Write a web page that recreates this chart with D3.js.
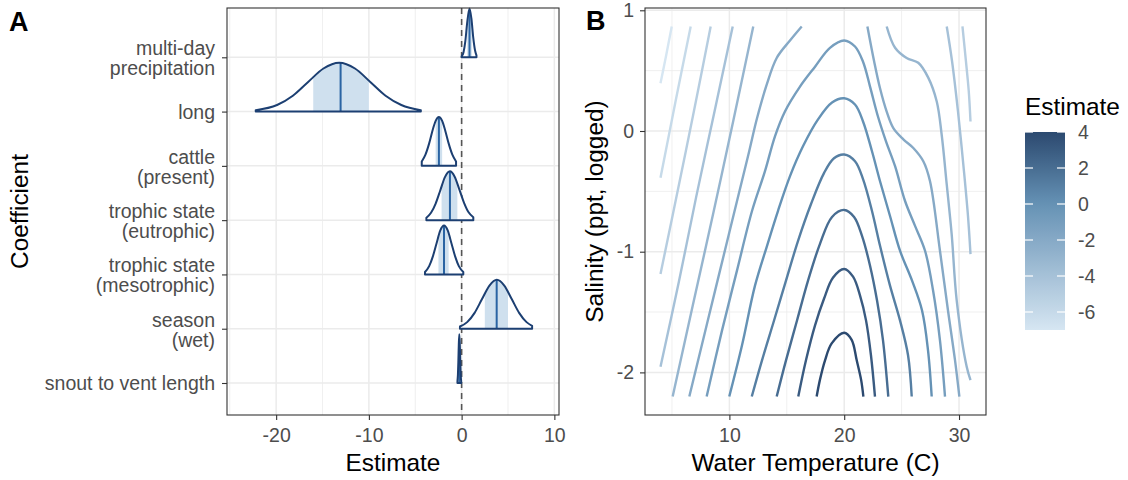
<!DOCTYPE html>
<html><head><meta charset="utf-8">
<script src="https://cdn.jsdelivr.net/npm/d3@7"></script>
<style>
body{margin:0;background:#fff;}
svg{display:block;font-family:"Liberation Sans",Arial,Helvetica,sans-serif;}
</style></head>
<body><svg id="chart" width="1128" height="480"></svg>
<script>
// ---------------- Panel A data ----------------
const coefficients = ["multi-day\nprecipitation","long","cattle\n(present)","trophic state\n(eutrophic)","trophic state\n(mesotrophic)","season\n(wet)","snout to vent length"];
// estimate positions of the density outline, per coefficient
const ridgeX = [
  [0.0,0.2,0.4,0.6,0.85,1.05,1.25,1.45,1.6],
  [-22.2,-19.9,-18.2,-16.55,-14.9,-13.2,-11.5,-9.85,-8.2,-6.5,-4.4],
  [-4.3,-3.9,-3.5,-3.1,-2.8,-2.45,-2.1,-1.75,-1.4,-1.0,-0.6],
  [-3.8,-3.3,-2.8,-2.3,-1.8,-1.26,-0.75,-0.25,0.25,0.75,1.26],
  [-3.95,-3.5,-3.1,-2.7,-2.3,-1.9,-1.5,-1.1,-0.7,-0.3,0.18],
  [-0.18,0.6,1.4,2.2,3.0,3.8,4.6,5.4,6.2,7.0,7.6],
  [-0.45,-0.4,-0.35,-0.3,-0.25,-0.2,-0.15,-0.1,-0.05]
];
// relative density heights read at those positions
const ridgeDensity = [
  [0.02,0.10,0.33,0.71,1.0,0.80,0.41,0.14,0.04],
  [0.03,0.135,0.325,0.607,0.882,1.0,0.882,0.607,0.325,0.135,0.03],
  [0.09,0.23,0.46,0.75,0.92,1.0,0.92,0.71,0.46,0.23,0.09],
  [0.05,0.15,0.34,0.61,0.88,1.0,0.89,0.63,0.36,0.16,0.06],
  [0.05,0.17,0.37,0.64,0.90,1.0,0.90,0.64,0.37,0.17,0.05],
  [0.045,0.135,0.325,0.607,0.882,1.0,0.882,0.607,0.325,0.135,0.06],
  [0.04,0.17,0.46,0.82,1.0,0.82,0.46,0.17,0.04]
];
const ridgeMedian = [0.85,-13.05,-2.45,-1.26,-1.9,3.78,-0.25];
const ridgeLow  = [0.6,-16.0,-2.8,-2.16,-2.5,2.5,-0.3];
const ridgeHigh = [1.1,-10.0,-2.1,-0.46,-1.4,5.0,-0.2];
const estimateTicks = [-20,-10,0,10];
const estimateMinor = [-25,-15,-5,5];

// ---------------- Panel B data ----------------
const tempTicks = [10,20,30];
const tempMinor = [5,15,25];
const salTicks = [-2,-1,0,1];
const salMinor = [-1.5,-0.5,0.5];
const legendTicks = [4,2,0,-2,-4,-6];
// contour lines (Water Temperature, Salinity) per level
const level4 = [[[17.6,-2.2],[17.89,-2.06],[18.33,-1.90],[18.91,-1.76],[20.0,-1.671],[20.65,-1.73],[21.09,-1.90],[21.47,-2.06],[21.67,-2.2]]];
const level3 = [[[16.0,-2.2],[16.67,-1.90],[17.46,-1.61],[18.24,-1.39],[19.02,-1.215],[20.0,-1.143],[20.77,-1.207],[21.38,-1.364],[21.90,-1.569],[22.33,-1.858],[22.68,-2.2]]];
const level2 = [[[14.12,-2.2],[14.93,-1.90],[15.89,-1.57],[16.85,-1.24],[17.89,-0.935],[18.94,-0.712],[20.0,-0.654],[20.86,-0.712],[21.55,-0.869],[22.25,-1.116],[22.86,-1.405],[23.38,-1.734],[23.84,-2.2]]];
const level1 = [[[11.95,-2.2],[12.84,-1.90],[13.89,-1.57],[14.93,-1.24],[15.98,-0.91],[17.11,-0.605],[18.24,-0.349],[19.11,-0.226],[20.0,-0.195],[20.94,-0.251],[21.64,-0.399],[22.42,-0.663],[23.12,-0.951],[23.99,-1.281],[24.86,-1.569],[25.56,-1.858],[25.88,-2.2]]];
const level0 = [[[9.99,-2.2],[11.10,-1.775],[12.23,-1.281],[13.28,-0.951],[14.23,-0.663],[15.28,-0.374],[16.41,-0.127],[17.72,0.096],[18.94,0.236],[20.0,0.271],[20.94,0.219],[21.64,0.079],[22.42,-0.168],[23.12,-0.416],[23.99,-0.704],[24.86,-0.992],[25.91,-1.24],[26.78,-1.487],[27.30,-1.817],[27.62,-2.2]]];
const levelM1 = [[[8.02,-2.2],[9.36,-1.652],[10.66,-1.157],[11.97,-0.663],[13.10,-0.333],[13.97,-0.044],[14.84,0.162],[16.15,0.368],[17.46,0.533],[18.76,0.689],[20.0,0.75],[20.94,0.70],[21.64,0.574],[22.25,0.368],[22.94,0.120],[23.64,-0.086],[24.43,-0.292],[25.3,-0.58],[26.17,-0.786],[27.04,-0.992],[27.74,-1.322],[28.34,-1.734],[28.78,-2.2]]];
const levelM2 = [
  [[6.51,-2.2],[9.18,-1.157],[11.62,-0.209],[12.40,0.104],[13.25,0.384],[14.12,0.605],[15.28,0.75],[16.30,0.866]],
  [[22.02,0.866],[22.6,0.58],[23.12,0.354],[23.70,0.161],[24.28,0.024],[25.15,-0.069],[26.02,-0.141],[26.89,-0.251],[27.47,-0.415],[28.34,-0.992],[29.04,-1.487],[29.65,-1.899],[30.03,-2.2]]
];
const levelM3 = [
  [[5.06,-2.2],[6.8,-1.45],[8.6,-0.68],[10.35,0.09],[12.08,0.866]],
  [[23.70,0.866],[24.43,0.69],[25.44,0.605],[26.45,0.565],[27.33,0.44],[28.06,0.244],[28.49,-0.031],[28.93,-0.443],[29.36,-0.855],[29.8,-1.405],[30.67,-1.954],[31.0,-2.064]]
];
const levelM4 = [
  [[4.0,-1.954],[5.6,-1.25],[7.1,-0.55],[8.7,0.16],[10.29,0.866]],
  [[28.93,0.866],[29.39,0.58],[29.91,0.162],[30.43,-0.333],[30.78,-0.704],[31.0,-1.02]]
];
const levelM5 = [
  [[4.0,-1.184],[5.1,-0.68],[6.2,-0.17],[7.3,0.35],[8.37,0.866]],
  [[30.3,0.866],[30.6,0.58],[30.85,0.327],[31.0,0.079]]
];
const levelM6 = [[[4.0,-0.388],[5.3,0.24],[6.63,0.866]]];
const levelM7 = [[[4.0,0.395],[4.5,0.63],[4.98,0.866]]];
const contourLevels = [-7,-6,-5,-4,-3,-2,-1,0,1,2,3,4];
const contourLines = [levelM7,levelM6,levelM5,levelM4,levelM3,levelM2,levelM1,level0,level1,level2,level3,level4];

// ---------------- drawing ----------------
const svg = d3.select("#chart");
const tickCol = "#4d4d4d", gridCol = "#ebebeb", borderCol = "#333333";
const tickFont = 19.5, titleFont = 24.4;

// ===== Panel A =====
const A = {x0:227, x1:559, y0:8, y1:415};
const xA = d3.scaleLinear().domain([-25.3,10.5]).range([A.x0,A.x1]);
const yA = d3.scalePoint().domain(coefficients).range([57.3,383]);
const hMax = yA.step()*0.9;
const gA = svg.append("g");

// grid
gA.selectAll(".gminA").data(estimateMinor.filter(v=>xA(v)>A.x0)).join("line")
  .attr("x1",d=>xA(d)).attr("x2",d=>xA(d)).attr("y1",A.y0).attr("y2",A.y1)
  .attr("stroke",gridCol).attr("stroke-width",0.8);
gA.selectAll(".gmajA").data(estimateTicks).join("line")
  .attr("x1",d=>xA(d)).attr("x2",d=>xA(d)).attr("y1",A.y0).attr("y2",A.y1)
  .attr("stroke",gridCol).attr("stroke-width",1.5);
gA.selectAll(".gyA").data(coefficients).join("line")
  .attr("x1",A.x0).attr("x2",A.x1).attr("y1",d=>yA(d)).attr("y2",d=>yA(d))
  .attr("stroke",gridCol).attr("stroke-width",1.5);

// zero line
gA.append("line").attr("x1",xA(0)).attr("x2",xA(0)).attr("y1",A.y0).attr("y2",A.y1)
  .attr("stroke","#555").attr("stroke-width",1.6).attr("stroke-dasharray","6,5");

// ridges
const defs = svg.append("defs");
coefficients.forEach((c,i)=>{
  const base = yA(c);
  const pts = ridgeX[i].map((x,j)=>[x,ridgeDensity[i][j]]);
  const area = d3.area().x(d=>xA(d[0])).y0(base).y1(d=>base-d[1]*hMax).curve(d3.curveMonotoneX);
  const dPath = area(pts);
  const cid = "ridgeclip"+i;
  defs.append("clipPath").attr("id",cid).append("path").attr("d",dPath);
  const qid = "qclip"+i;
  defs.append("clipPath").attr("id",qid).append("rect")
    .attr("x",xA(ridgeLow[i])).attr("y",base-hMax-5).attr("width",xA(ridgeHigh[i])-xA(ridgeLow[i])).attr("height",hMax+5);
  const g = gA.append("g");
  g.append("path").attr("d",dPath).attr("fill","#ffffff");
  g.append("g").attr("clip-path",`url(#${qid})`).append("path").attr("d",dPath).attr("fill","#cfe0ee");
  g.append("line").attr("clip-path",`url(#${cid})`)
    .attr("x1",xA(ridgeMedian[i])).attr("x2",xA(ridgeMedian[i])).attr("y1",base).attr("y2",base-hMax-2)
    .attr("stroke","#2a64a3").attr("stroke-width",2);
  g.append("path").attr("d",dPath).attr("fill","none").attr("stroke","#1c3f72").attr("stroke-width",2).attr("stroke-linejoin","round");
});

// border
gA.append("rect").attr("x",A.x0).attr("y",A.y0).attr("width",A.x1-A.x0).attr("height",A.y1-A.y0)
  .attr("fill","none").attr("stroke",borderCol).attr("stroke-width",1.1);

// axes A
const axA = gA.append("g").attr("transform",`translate(0,${A.y1})`)
  .call(d3.axisBottom(xA).tickValues(estimateTicks).tickSize(5).tickPadding(8).tickFormat(d3.format("d")));
const axAy = gA.append("g").attr("transform",`translate(${A.x0},0)`)
  .call(d3.axisLeft(yA).tickSize(5).tickFormat(""));
[axA,axAy].forEach(a=>{a.select(".domain").remove();a.selectAll(".tick line").attr("stroke",borderCol).attr("stroke-width",1.1);});
axA.selectAll(".tick text").attr("font-size",tickFont).attr("fill",tickCol).attr("font-family",null).text(d=>d<0?"-"+Math.abs(d):d);
// y labels multi-line
coefficients.forEach(c=>{
  const lines = c.split("\n");
  const t = gA.append("text").attr("text-anchor","end").attr("font-size",tickFont).attr("fill",tickCol);
  if(lines.length===1){
    t.append("tspan").attr("x",215).attr("y",yA(c)+7).text(lines[0]);
  } else {
    t.append("tspan").attr("x",215).attr("y",yA(c)-2).text(lines[0]);
    t.append("tspan").attr("x",215).attr("y",yA(c)+18).text(lines[1]);
  }
});
gA.append("text").attr("x",(A.x0+A.x1)/2).attr("y",471).attr("text-anchor","middle").attr("font-size",titleFont).attr("fill","#000").text("Estimate");
gA.append("text").attr("transform",`translate(28,${(A.y0+A.y1)/2}) rotate(-90)`).attr("text-anchor","middle").attr("font-size",titleFont).attr("fill","#000").text("Coefficient");
svg.append("text").attr("x",9).attr("y",31).attr("font-size",27).attr("font-weight","bold").text("A");

// ===== Panel B =====
const B = {x0:645, x1:986, y0:8, y1:415};
const xB = d3.scaleLinear().domain([2.65,32.35]).range([B.x0,B.x1]);
const yB = d3.scaleLinear().domain([-2.353,1.019]).range([B.y1,B.y0]);
const gB = svg.append("g");
gB.selectAll(".gminBx").data(tempMinor).join("line")
  .attr("x1",d=>xB(d)).attr("x2",d=>xB(d)).attr("y1",B.y0).attr("y2",B.y1).attr("stroke",gridCol).attr("stroke-width",0.8);
gB.selectAll(".gminBy").data(salMinor).join("line")
  .attr("y1",d=>yB(d)).attr("y2",d=>yB(d)).attr("x1",B.x0).attr("x2",B.x1).attr("stroke",gridCol).attr("stroke-width",0.8);
gB.selectAll(".gmajBx").data(tempTicks).join("line")
  .attr("x1",d=>xB(d)).attr("x2",d=>xB(d)).attr("y1",B.y0).attr("y2",B.y1).attr("stroke",gridCol).attr("stroke-width",1.5);
gB.selectAll(".gmajBy").data(salTicks).join("line")
  .attr("y1",d=>yB(d)).attr("y2",d=>yB(d)).attr("x1",B.x0).attr("x2",B.x1).attr("stroke",gridCol).attr("stroke-width",1.5);

const colour = d3.scaleLinear().domain([-7,0,4]).range(["#d6e6f2","#6592b5","#2c4a70"]).interpolate(d3.interpolateLab);
const lineGen = d3.line().x(d=>xB(d[0])).y(d=>yB(d[1])).curve(d3.curveCatmullRom.alpha(0.5));
contourLines.forEach((segs,k)=>{
  segs.forEach(seg=>{
    gB.append("path").attr("d",lineGen(seg)).attr("fill","none")
      .attr("stroke",colour(contourLevels[k])).attr("stroke-width",2.4).attr("stroke-linecap","butt");
  });
});
gB.append("rect").attr("x",B.x0).attr("y",B.y0).attr("width",B.x1-B.x0).attr("height",B.y1-B.y0)
  .attr("fill","none").attr("stroke",borderCol).attr("stroke-width",1.1);
const axBx = gB.append("g").attr("transform",`translate(0,${B.y1})`)
  .call(d3.axisBottom(xB).tickValues(tempTicks).tickSize(5).tickPadding(8));
const axBy = gB.append("g").attr("transform",`translate(${B.x0},0)`)
  .call(d3.axisLeft(yB).tickValues(salTicks).tickSize(5).tickPadding(6).tickFormat(d=>d<0?"-"+Math.abs(d):d));
[axBx,axBy].forEach(a=>{a.select(".domain").remove();a.selectAll(".tick line").attr("stroke",borderCol).attr("stroke-width",1.1);
  a.selectAll(".tick text").attr("font-size",tickFont).attr("fill",tickCol).attr("font-family",null);});
gB.append("text").attr("x",(B.x0+B.x1)/2).attr("y",471).attr("text-anchor","middle").attr("font-size",titleFont).attr("fill","#000").text("Water Temperature (C)");
gB.append("text").attr("transform",`translate(603,${(B.y0+B.y1)/2}) rotate(-90)`).attr("text-anchor","middle").attr("font-size",titleFont).attr("fill","#000").text("Salinity (ppt, logged)");
svg.append("text").attr("x",586).attr("y",30).attr("font-size",27).attr("font-weight","bold").text("B");

// ===== Legend =====
const yL = d3.scaleLinear().domain([-7,4]).range([330,132]);
const grad = defs.append("linearGradient").attr("id","lg").attr("x1",0).attr("y1",1).attr("x2",0).attr("y2",0);
d3.range(0,1.0001,0.05).forEach(t=>{
  grad.append("stop").attr("offset",t).attr("stop-color",colour(-7+11*t));
});
const gL = svg.append("g");
gL.append("rect").attr("x",1025).attr("y",yL(4)).attr("width",40).attr("height",yL(-7)-yL(4)).attr("fill","url(#lg)");
legendTicks.forEach(v=>{
  gL.append("line").attr("x1",1025).attr("x2",1033).attr("y1",yL(v)).attr("y2",yL(v)).attr("stroke","#fff").attr("stroke-width",1.2);
  gL.append("line").attr("x1",1057).attr("x2",1065).attr("y1",yL(v)).attr("y2",yL(v)).attr("stroke","#fff").attr("stroke-width",1.2);
  gL.append("text").attr("x",1078).attr("y",yL(v)+7).attr("font-size",tickFont).attr("fill",tickCol).text(v<0?"-"+Math.abs(v):v);
});
gL.append("text").attr("x",1025).attr("y",115).attr("font-size",titleFont).attr("fill","#000").text("Estimate");
</script>
</body></html>
